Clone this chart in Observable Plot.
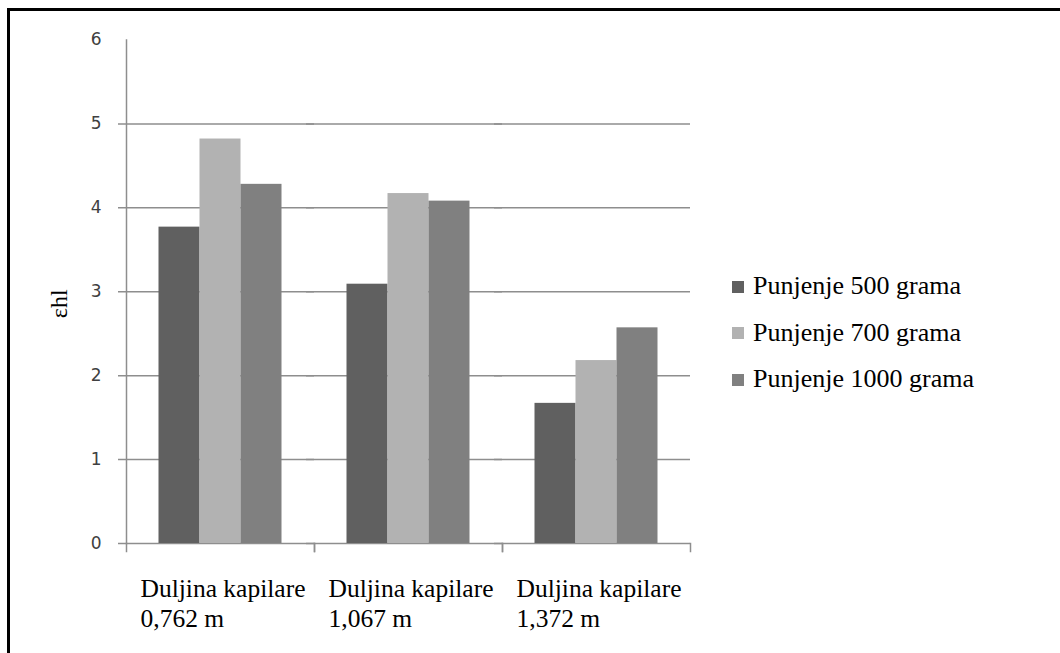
<!DOCTYPE html>
<html><head><meta charset="utf-8">
<script src="https://cdn.jsdelivr.net/npm/d3@7"></script>
<script src="https://cdn.jsdelivr.net/npm/@observablehq/plot@0.6"></script>
<style>
body{margin:0;background:#fff;}
#wrap{position:relative;width:1060px;height:653px;overflow:hidden;background:#fff;}
#chart{position:absolute;left:0;top:0;}
#border{position:absolute;left:7px;top:8px;width:1100px;height:700px;border-left:3px solid #000;border-top:3px solid #000;}
#legend{position:absolute;left:0;top:0;font-family:"Liberation Serif","Times New Roman",serif;font-size:26px;color:#000;}
.row{position:absolute;white-space:nowrap;line-height:26px;}
.sw{position:absolute;width:12px;height:12px;}
</style></head><body>
<div id="wrap"><div id="chart"></div><div id="border"></div><div id="legend"></div></div>
<script>
const categories = ["Duljina kapilare\n0,762 m", "Duljina kapilare\n1,067 m", "Duljina kapilare\n1,372 m"];
const series = ["Punjenje 500 grama", "Punjenje 700 grama", "Punjenje 1000 grama"];
const values500 = [3.77, 3.09, 1.67];
const values700 = [4.82, 4.17, 2.18];
const values1000 = [4.28, 4.08, 2.57];
const colors = ["#606060", "#b2b2b2", "#808080"];
const yTicks = [0, 1, 2, 3, 4, 5, 6];
const gridTicks = [0, 1, 2, 3, 4, 5];
const yLabel = "εhl";

const seriesValues = [values500, values700, values1000];
const data = [];
categories.forEach((c, i) => series.forEach((s, j) => data.push({cat: c, series: s, value: seriesValues[j][i]})));

const W = 1060, H = 653, mT = 39.5, mB = 110, mL = 125.5, mR = 369.5;
const frameH = H - mT - mB;
const axisGray = "#8e8e8e";

const chart = Plot.plot({
  width: W, height: H,
  marginLeft: mL, marginRight: mR, marginTop: mT, marginBottom: mB,
  style: {background: "transparent", overflow: "visible"},
  fx: {domain: categories, padding: 0, axis: null, label: null},
  x: {domain: series, paddingInner: 0, paddingOuter: 0.78, axis: null},
  y: {domain: [0, 6], axis: null},
  color: {domain: series, range: colors},
  marks: [
    Plot.ruleY(gridTicks, {y: d => d, stroke: axisGray, strokeWidth: 1.5, insetLeft: -8}),
    Plot.barY(data, {fx: "cat", x: "series", y: "value", fill: "series"}),
    Plot.frame({anchor: "left", facet: "super", stroke: axisGray, strokeWidth: 1.5}),
    Plot.frame({anchor: "left", stroke: axisGray, strokeWidth: 1.5, insetTop: frameH, insetBottom: -8}),
    Plot.frame({anchor: "right", stroke: axisGray, strokeWidth: 1.5, insetTop: frameH, insetBottom: -8}),
    Plot.axisY(yTicks, {tickSize: 0, tickPadding: 25, tickFormat: d => String(d), fontFamily: "DejaVu Sans", fontSize: 17, fill: "#404040", label: null}),
    Plot.axisFx({anchor: "bottom", tickSize: 0, tickPadding: 32, textAnchor: "start", dx: -80,
      fontFamily: "Liberation Serif", fontSize: 25.5, lineHeight: 1.18, fill: "#000", label: null}),
    Plot.text([yLabel], {facet: "super", frameAnchor: "left", dx: -67, dy: 12, rotate: -90,
      fontFamily: "Liberation Serif", fontSize: 24, fill: "#000", textAnchor: "middle", lineAnchor: "middle"})
  ]
});
document.getElementById("chart").appendChild(chart);

const legend = document.getElementById("legend");
series.forEach((s, i) => {
  const sw = document.createElement("div");
  sw.className = "sw";
  sw.style.left = "731.5px";
  sw.style.top = (280.5 + i * 46.5) + "px";
  sw.style.background = colors[i];
  legend.appendChild(sw);
  const t = document.createElement("div");
  t.className = "row";
  t.style.left = "753px";
  t.style.top = (273.2 + i * 46.5) + "px";
  t.textContent = s;
  legend.appendChild(t);
});
</script>
</body></html>
